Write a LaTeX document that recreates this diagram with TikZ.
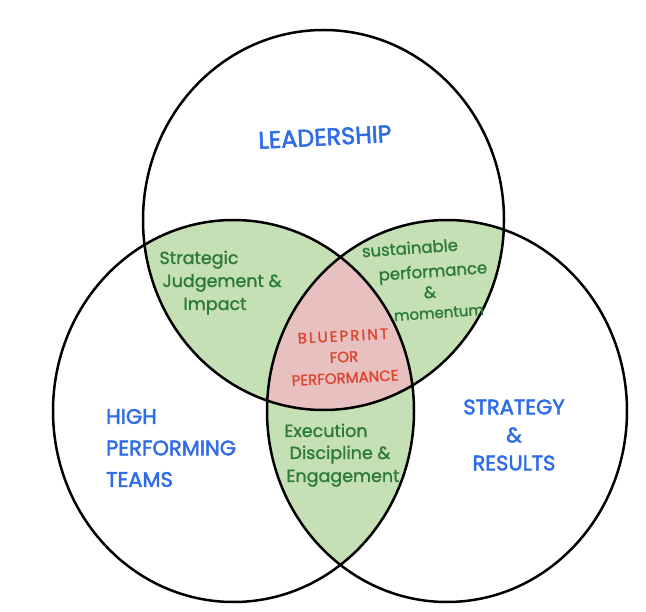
\documentclass[tikz,border=0pt]{standalone}
\usepackage{fontspec}
\setmainfont{Poppins}
\newfontfamily\bluefont{Poppins}[FakeBold=2.2]
\newfontfamily\greenfont{Poppins}[FakeBold=1.4]
\newfontfamily\redfont{Poppins}[FakeBold=1.6]
\newfontfamily\redwide{Poppins}[FakeBold=1.6, LetterSpace=14]
\definecolor{vgreen}{HTML}{C5E0B4}
\definecolor{vred}{HTML}{E9C0C0}
\definecolor{tgreen}{HTML}{2E7A3C}
\definecolor{tblue}{HTML}{2F6CE8}
\definecolor{tred}{HTML}{DC4530}
\tikzset{
  outline/.style={draw=black, line width=2.5pt},
  bluelbl/.style={text=tblue, inner sep=0pt},
  greenlbl/.style={text=tgreen, font=\greenfont\fontsize{17.5}{23}\selectfont, inner sep=0pt, text height=12pt, text depth=4pt},
  greensm/.style={greenlbl, font=\greenfont\fontsize{16.5}{21}\selectfont, rotate=4},
  redlbl/.style={text=tred, font=\redfont\fontsize{15}{21}\selectfont, align=center, inner sep=0pt},
}
\def\topE{(323.5,220) ellipse [x radius=180.5pt, y radius=190pt]}
\def\leftE{(233.5,411) ellipse [x radius=180.5pt, y radius=191pt]}
\def\rightE{(447,411) ellipse [x radius=180pt, y radius=191pt]}
\begin{document}
\begin{tikzpicture}[x=1pt,y=-1pt]
\useasboundingbox (0,0) rectangle (646,612);
\fill[white] (0,0) rectangle (646,612);
% pairwise intersections
\begin{scope}
  \clip \topE;
  \fill[vgreen] \leftE;
  \fill[vgreen] \rightE;
\end{scope}
\begin{scope}
  \clip \leftE;
  \fill[vgreen] \rightE;
\end{scope}
% triple intersection
\begin{scope}
  \clip \topE;
  \clip \leftE;
  \fill[vred] \rightE;
\end{scope}
% outlines
\draw[outline] \topE;
\draw[outline] \leftE;
\draw[outline] \rightE;
% labels
\node[bluelbl, font=\bluefont\fontsize{24}{29}\selectfont, rotate=3] (lead) at (325,137) {LEADERSHIP};
\node[bluelbl, align=left, anchor=west, font=\bluefont\fontsize{21}{31.5}\selectfont] (hpt) at (106,448) {HIGH\\PERFORMING\\TEAMS};
\node[bluelbl, align=center, font=\bluefont\fontsize{21}{28}\selectfont] (sr) at (514,435) {STRATEGY\\\&\\RESULTS};
% top-left overlap
\node[greenlbl] (sji1) at (199,260) {Strategic};
\node[greenlbl] (sji2) at (222,283) {Judgement \&};
\node[greenlbl] (sji3) at (215,306) {Impact};
% top-right overlap
\node[greensm] (spm1) at (410,250) {sustainable};
\node[greensm] (spm2) at (433,273) {performance};
\node[greensm] (spm3) at (430,294) {\&};
\node[greensm, font=\greenfont\fontsize{15}{20}\selectfont] (spm4) at (439,314) {momentum};
% bottom overlap
\node[greenlbl] (ede1) at (326,433) {Execution};
\node[greenlbl] (ede2) at (340,455) {Discipline \&};
\node[greenlbl] (ede3) at (343,478) {Engagement};
% centre
\node[redlbl, rotate=3] (bfp) at (344,357) {{\redwide BLUEPRINT}\\FOR\\PERFORMANCE};
\end{tikzpicture}
\end{document}
